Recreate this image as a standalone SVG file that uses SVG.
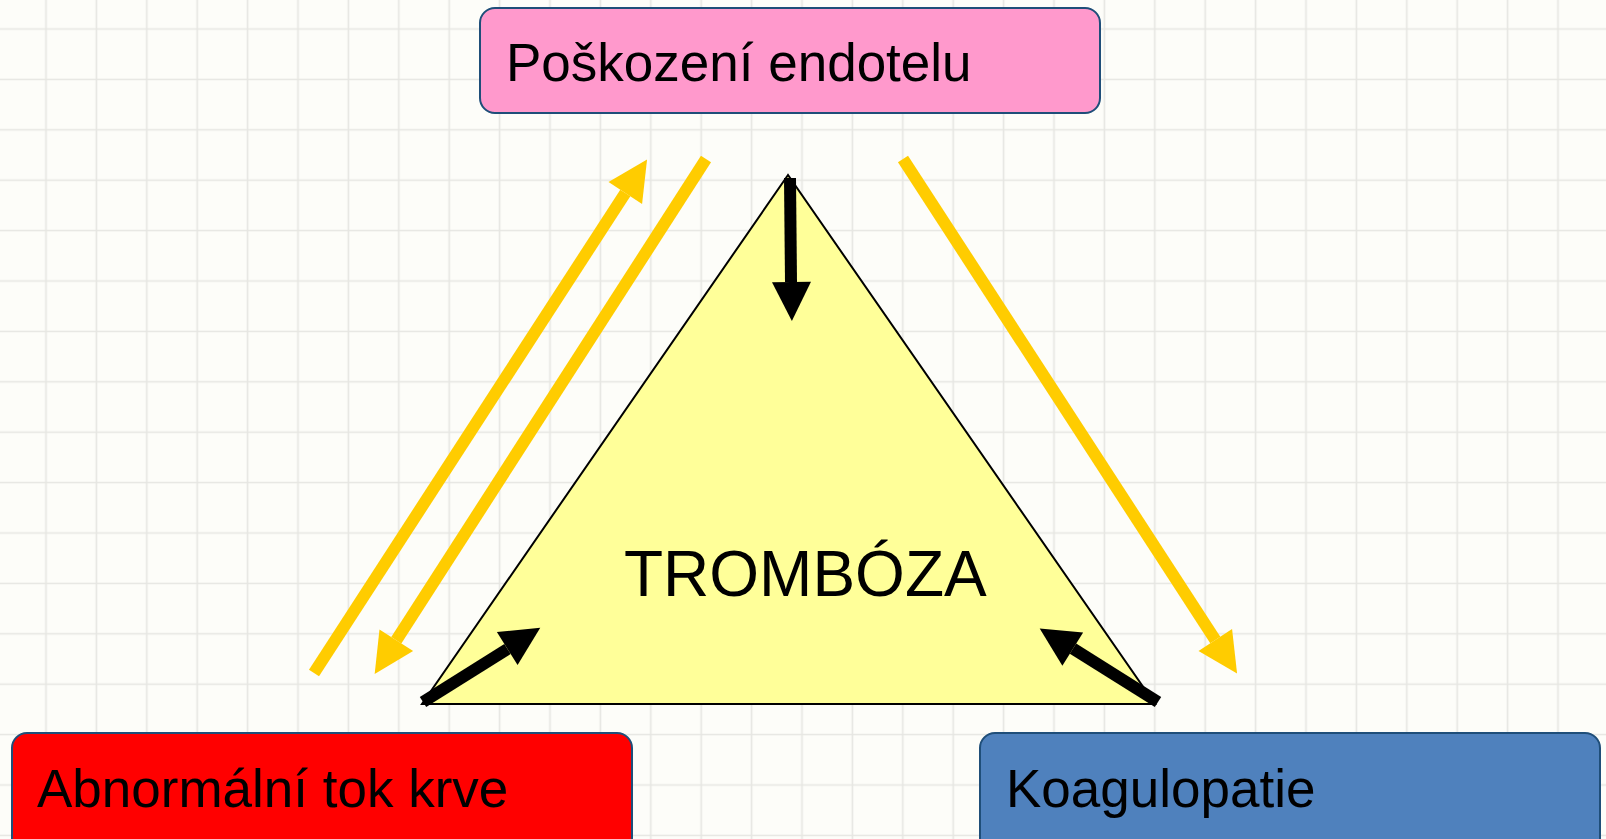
<svg xmlns="http://www.w3.org/2000/svg" width="1606" height="839" viewBox="0 0 1606 839">
<style>
.box{stroke:#1f4e79;stroke-width:2}
.lbl{font-family:"Liberation Sans",Arial,sans-serif;font-size:53px;fill:#000}
.gold{stroke:#ffcc00;stroke-width:12;fill:none}
.blk{stroke:#000;stroke-width:12;fill:none}
</style>
<defs>
<pattern id="grid" patternUnits="userSpaceOnUse" x="20.8" y="3.8" width="50.4" height="50.4">
<path d="M25.2,0 V50.4 M0,25.2 H50.4" stroke="#e6e6e2" stroke-width="1.6" fill="none"/>
</pattern>
<marker id="hg" markerUnits="userSpaceOnUse" markerWidth="40" markerHeight="40" refX="0" refY="20" orient="auto" overflow="visible">
<path d="M0,0 L40,20 L0,40 z" fill="#ffcc00"/>
</marker>
<marker id="hb" markerUnits="userSpaceOnUse" markerWidth="40" markerHeight="40" refX="0" refY="20" orient="auto" overflow="visible">
<path d="M0,0 L39,19.5 L0,39 z" fill="#000"/>
</marker>
</defs>
<rect width="1606" height="839" fill="#fdfdf9"/>
<rect width="1606" height="839" fill="url(#grid)"/>
<g id="tromboza">
<polygon points="788,175 422,704 1155,704" fill="#ffff99" stroke="#000" stroke-width="2"/>
<text x="624" y="596" class="lbl" style="font-size:64px">TROMBÓZA</text>
</g>
<g id="endotel">
<rect x="480" y="8" width="620" height="105" rx="15" fill="#ff99cc" class="box"/>
<text x="506" y="81" class="lbl">Poškození endotelu</text>
</g>
<g id="tok">
<rect x="12" y="733" width="620" height="120" rx="15" fill="#ff0000" class="box"/>
<text x="37" y="807" class="lbl">Abnormální tok krve</text>
</g>
<g id="koagulopatie">
<rect x="980" y="733" width="620" height="120" rx="15" fill="#4f81bd" class="box"/>
<text x="1006" y="807" class="lbl">Koagulopatie</text>
</g>
<g id="connectors">
<line x1="314" y1="673" x2="625.3" y2="193" class="gold" marker-end="url(#hg)"/>
<line x1="706" y1="159" x2="396.3" y2="640.3" class="gold" marker-end="url(#hg)"/>
<line x1="903" y1="159" x2="1215.3" y2="640" class="gold" marker-end="url(#hg)"/>
<line x1="790" y1="178" x2="791" y2="282" class="blk" marker-end="url(#hb)"/>
<line x1="423" y1="702" x2="507.5" y2="649" class="blk" marker-end="url(#hb)"/>
<line x1="1158" y1="702" x2="1073" y2="648.7" class="blk" marker-end="url(#hb)"/>
</g>
</svg>
